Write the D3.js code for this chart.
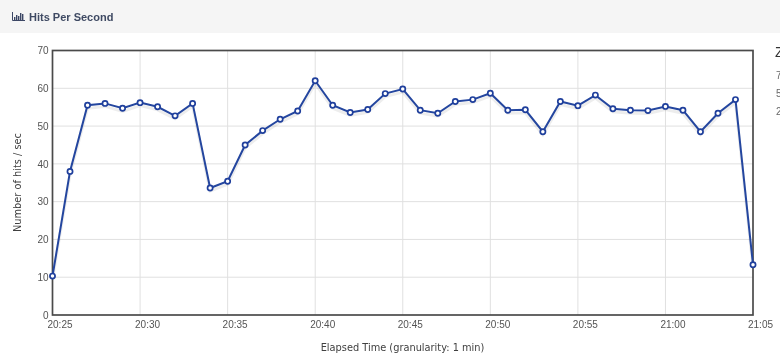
<!DOCTYPE html>
<html>
<head>
<meta charset="utf-8">
<script src="https://cdn.jsdelivr.net/npm/d3@7"></script>
<style>
html, body { margin: 0; padding: 0; background: #fff; overflow: hidden; }
svg { filter: blur(0.35px); }
text { font-family: "Liberation Sans", Arial, sans-serif; }
.axis path, .axis line { display: none; }
.axis text { fill: #545454; font-size: 10px; }
.axis-title { font-family: "DejaVu Sans", Verdana, sans-serif; font-size: 9.8px; fill: #404040; }
</style>
</head>
<body>
<div id="chart-area"></div>
<script>
// SVG Size
let width = 780,
	height = 357;

let times = ["20:25","20:26","20:27","20:28","20:29","20:30","20:31","20:32","20:33","20:34",
	"20:35","20:36","20:37","20:38","20:39","20:40","20:41","20:42","20:43","20:44",
	"20:45","20:46","20:47","20:48","20:49","20:50","20:51","20:52","20:53","20:54",
	"20:55","20:56","20:57","20:58","20:59","21:00","21:01","21:02","21:03","21:04","21:05"];
let hits = [10.3,38,55.5,56,54.7,56.2,55.1,52.7,56,33.6,
	35.4,45,48.8,51.8,54,62,55.5,53.6,54.4,58.6,
	59.8,54.2,53.4,56.5,57,58.7,54.2,54.3,48.5,56.5,
	55.4,58.2,54.6,54.2,54.1,55.2,54.2,48.5,53.4,57,13.3];
let xTicks = ["20:25","20:30","20:35","20:40","20:45","20:50","20:55","21:00","21:05"];
let yTicks = [0,10,20,30,40,50,60,70];
let zoomLabels = ["75","50","25"];
let iconBars = [3,5,4,7,6];

let parseTime = d3.timeParse("%H:%M");
let data = times.map((t,i)=>({time:parseTime(t), hits:hits[i]}));

let margin = {left:52.5, right:27, top:50.5, bottom:42};

let xScale = d3.scaleTime()
			.domain(d3.extent(data, (d)=>d.time))
			.range([margin.left, width - margin.right])

let yScale = d3.scaleLinear()
			.domain([0,70])
			.range([height - margin.bottom, margin.top])

let svg = d3.select("#chart-area")
			.append('svg')
			.attr('width', width)
			.attr('height', height)
			.style('display', 'block');

// header bar
svg.append('rect')
	.attr('width', width)
	.attr('height', 33)
	.attr('fill', '#f5f5f5');

// little bar chart icon next to the title
let icon = svg.append('g').attr('transform', 'translate(12,21)');
icon.selectAll('rect')
	.data(iconBars)
	.enter()
	.append('rect')
	.attr('x', (d,i)=>2 + i*2)
	.attr('y', (d)=>-d - 1)
	.attr('width', 1.4)
	.attr('height', (d)=>d)
	.attr('fill', '#3c4765');
icon.append('path')
	.attr('d', 'M0.5,-9V-0.5H13')
	.attr('fill', 'none')
	.attr('stroke', '#3c4765');

svg.append('text')
	.attr('x', 29)
	.attr('y', 21)
	.attr('font-size', '11px')
	.attr('font-weight', 'bold')
	.attr('fill', '#3f4a63')
	.text('Hits Per Second');

// grid
svg.append('g')
	.selectAll('line')
	.data(yTicks.slice(1,-1))
	.enter()
	.append('line')
	.attr('x1', margin.left)
	.attr('x2', width - margin.right)
	.attr('y1', (d)=>yScale(d))
	.attr('y2', (d)=>yScale(d))
	.attr('stroke', '#e0e0e0');

svg.append('g')
	.selectAll('line')
	.data(xTicks.slice(1,-1))
	.enter()
	.append('line')
	.attr('x1', (d)=>xScale(parseTime(d)))
	.attr('x2', (d)=>xScale(parseTime(d)))
	.attr('y1', margin.top)
	.attr('y2', height - margin.bottom)
	.attr('stroke', '#e0e0e0');

// axes
let xAxis = d3.axisBottom()
			.scale(xScale)
			.tickValues(xTicks.map(parseTime))
			.tickFormat(d3.timeFormat("%H:%M"))
			.tickSize(0)
			.tickPadding(6);

let yAxis = d3.axisLeft()
			.scale(yScale)
			.tickValues(yTicks)
			.tickSize(0)
			.tickPadding(4);

// labels sit a little to the right of their grid line in the original
svg.append('g')
	.attr('class', 'axis x-axis')
	.attr('transform', 'translate(0,' + (height - margin.bottom) + ')')
	.call(xAxis)
	.selectAll('text')
	.attr('dx', 7);

svg.append('g')
	.attr('class', 'axis y-axis')
	.attr('transform', 'translate(' + margin.left + ',0)')
	.call(yAxis);

// plot border
svg.append('rect')
	.attr('x', margin.left)
	.attr('y', margin.top)
	.attr('width', width - margin.right - margin.left)
	.attr('height', height - margin.bottom - margin.top)
	.attr('fill', 'none')
	.attr('stroke', '#4a4a4a')
	.attr('stroke-width', 1.7);

svg.append('text')
	.attr('class', 'axis-title')
	.attr('x', 402.5)
	.attr('y', 351)
	.attr('text-anchor', 'middle')
	.text('Elapsed Time (granularity: 1 min)');

svg.append('text')
	.attr('class', 'axis-title')
	.attr('transform', 'translate(21,182.5) rotate(-90)')
	.attr('text-anchor', 'middle')
	.text('Number of hits / sec');

let line = d3.line()
			.x((d)=>xScale(d.time))
			.y((d)=>yScale(d.hits));

// soft shadow under the line
svg.append('path')
	.datum(data)
	.attr('d', line)
	.attr('transform', 'translate(0,3)')
	.attr('fill', 'none')
	.attr('stroke', '#000')
	.attr('stroke-opacity', 0.07)
	.attr('stroke-width', 3);

svg.append('path')
	.datum(data)
	.attr('d', line)
	.attr('fill', 'none')
	.attr('stroke', '#24469f')
	.attr('stroke-width', 2);

svg.selectAll('circle')
	.data(data)
	.enter()
	.append('circle')
	.attr('r', 2.6)
	.attr('cx', (d)=>xScale(d.time))
	.attr('cy', (d)=>yScale(d.hits))
	.attr('fill', '#fff')
	.attr('stroke', '#1f3f9c')
	.attr('stroke-width', 1.7);

// zoom panel, cut off by the right edge of the screenshot
svg.append('text')
	.attr('x', 775)
	.attr('y', 57)
	.attr('font-size', '14px')
	.attr('fill', '#333')
	.text('Zoom');

svg.selectAll('.zoom-label')
	.data(zoomLabels)
	.enter()
	.append('text')
	.attr('class', 'zoom-label')
	.attr('x', 776)
	.attr('y', (d,i)=>78.5 + i*18)
	.attr('font-size', '10px')
	.attr('fill', '#666')
	.text((d)=>d);
</script>
</body>
</html>
